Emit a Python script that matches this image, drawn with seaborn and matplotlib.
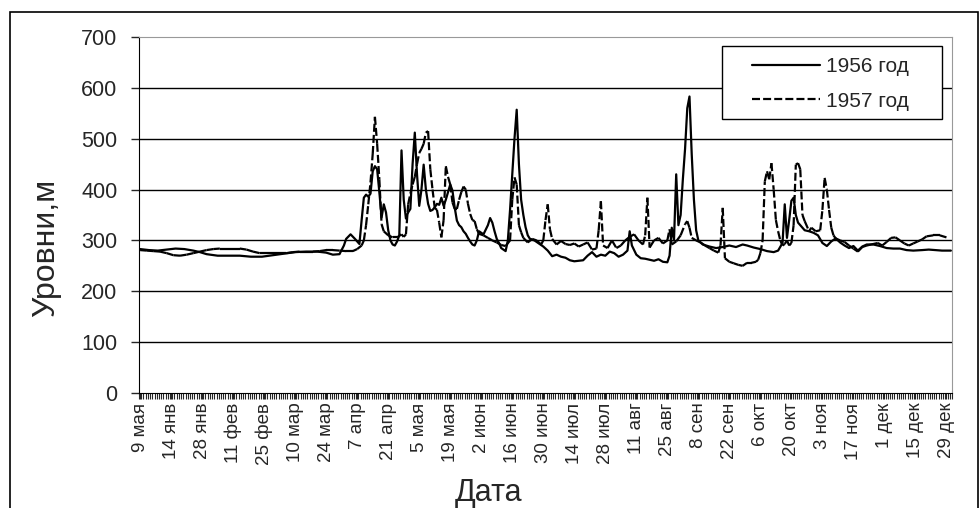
import matplotlib
matplotlib.use("Agg")
import matplotlib.pyplot as plt
import numpy as np
import seaborn as sns
from matplotlib.collections import LineCollection
from matplotlib.lines import Line2D
from matplotlib.patches import Rectangle

# уровни воды по дням (индекс дня от начала года)
days_1956 = [0, 4, 8, 12, 16, 20, 24, 27, 30, 35, 40, 45, 50, 55, 60, 65, 70, 75, 80, 84, 87, 90,
             92, 93, 95, 97, 99, 100, 101, 102, 103, 104, 105, 106, 107, 108, 109, 110, 111, 112,
             113, 114, 115, 116, 117, 118, 119, 120, 121, 122, 123, 124, 125, 126, 127, 128, 129,
             130, 131, 132, 133, 134, 135, 136, 137, 138, 139, 140, 141, 142, 143, 144, 145, 146,
             147, 148, 149, 150, 151, 152, 153, 155, 157, 158, 159, 160, 161, 162, 163, 164, 165,
             166, 167, 168, 169, 170, 171, 172, 173, 174, 175, 176, 178, 180, 182, 184, 186, 188,
             190, 192, 194, 196, 198, 200, 202, 204, 206, 208, 210, 212, 214, 216, 218, 220, 221,
             222, 224, 226, 228, 230, 232, 234, 236, 238, 239, 240, 241, 242, 243, 244, 245, 246,
             247, 248, 249, 250, 251, 252, 254, 257, 260, 263, 266, 269, 272, 274, 277, 280, 283,
             286, 288, 290, 291, 292, 293, 294, 295, 296, 297, 298, 300, 302, 304, 306, 308, 310,
             312, 314, 316, 318, 320, 322, 324, 326, 328, 331, 334, 337, 340, 343, 346, 349, 353,
             356, 359, 362, 366]
levels_1956 = [283, 281, 280, 282, 284, 283, 280, 277, 273, 270, 270, 270, 268, 268, 271, 274, 277,
               278, 278, 276, 272, 273, 290, 303, 312, 303, 293, 340, 384, 390, 386, 392, 436, 446,
               440, 395, 345, 371, 355, 320, 300, 292, 290, 298, 310, 477, 380, 343, 355, 362, 450,
               512, 430, 368, 400, 449, 400, 372, 358, 360, 365, 372, 370, 384, 368, 380, 395, 410,
               398, 365, 339, 330, 326, 318, 313, 305, 298, 292, 290, 300, 318, 312, 330, 344, 335,
               318, 303, 295, 285, 282, 279, 300, 360, 430, 500, 557, 450, 380, 350, 326, 310, 303,
               300, 294, 288, 280, 269, 272, 268, 266, 261, 259, 260, 261, 270, 277, 268, 272, 270,
               278, 275, 268, 272, 280, 318, 290, 272, 265, 264, 262, 260, 263, 258, 257, 270, 325,
               300, 430, 330, 350, 420, 480, 560, 583, 470, 380, 320, 300, 292, 288, 285, 287, 290,
               287, 292, 290, 286, 283, 279, 277, 280, 295, 371, 305, 340, 378, 384, 350, 335, 330,
               320, 318, 315, 310, 295, 289, 298, 304, 296, 290, 285, 289, 280, 288, 292, 292, 289,
               285, 284, 284, 281, 280, 281, 282, 281, 280, 280]

days_1957 = [0, 3, 6, 9, 12, 15, 18, 21, 24, 27, 30, 33, 36, 39, 42, 45, 48, 51, 54, 57, 60, 63, 66,
             69, 72, 75, 78, 81, 84, 87, 90, 93, 96, 98, 100, 101, 102, 103, 104, 105, 106, 107,
             108, 109, 110, 112, 114, 116, 118, 119, 120, 121, 122, 123, 124, 125, 126, 127, 128,
             129, 130, 131, 132, 133, 134, 135, 136, 137, 138, 139, 140, 141, 142, 143, 144, 145,
             146, 147, 148, 149, 150, 151, 152, 153, 155, 157, 159, 161, 163, 165, 167, 168, 169,
             170, 171, 172, 173, 175, 177, 179, 181, 182, 183, 184, 185, 186, 188, 190, 192, 194,
             196, 198, 200, 202, 204, 206, 207, 208, 209, 211, 213, 215, 217, 219, 221, 223, 225,
             227, 228, 229, 230, 232, 234, 236, 238, 239, 240, 242, 244, 246, 247, 248, 249, 251,
             253, 255, 257, 259, 261, 262, 263, 264, 266, 268, 270, 272, 274, 276, 278, 279, 280,
             281, 282, 283, 284, 285, 286, 287, 288, 289, 290, 291, 292, 293, 294, 295, 296, 297,
             298, 299, 300, 302, 303, 305, 307, 308, 309, 310, 311, 312, 313, 314, 316, 318, 320,
             322, 324, 326, 328, 330, 333, 335, 337, 339, 341, 343, 345, 347, 349, 351, 353, 355,
             358, 361, 364]
levels_1957 = [281, 280, 279, 278, 275, 271, 270, 272, 275, 278, 281, 283, 284, 284, 284, 284, 282,
               278, 275, 275, 275, 275, 275, 277, 278, 278, 278, 279, 281, 281, 280, 279, 279, 283,
               290, 300, 330, 371, 414, 470, 543, 490, 420, 332, 318, 310, 306, 306, 312, 307, 312,
               371, 392, 410, 425, 450, 472, 480, 490, 512, 515, 440, 400, 364, 360, 335, 306, 340,
               446, 425, 410, 375, 362, 362, 380, 395, 406, 400, 372, 352, 340, 338, 322, 313, 310,
               305, 300, 296, 291, 289, 300, 380, 424, 410, 330, 316, 305, 296, 303, 300, 292, 300,
               340, 371, 322, 303, 292, 299, 293, 291, 294, 288, 292, 296, 282, 284, 320, 377, 290,
               285, 300, 285, 290, 300, 307, 312, 300, 292, 310, 384, 286, 300, 305, 294, 300, 322,
               292, 298, 310, 332, 338, 325, 305, 300, 296, 290, 285, 280, 276, 290, 364, 265, 258,
               255, 252, 250, 256, 256, 258, 262, 275, 300, 416, 436, 420, 452, 400, 340, 318, 300,
               290, 293, 300, 290, 295, 330, 449, 452, 440, 350, 338, 318, 325, 318, 320, 360, 423,
               400, 360, 325, 310, 304, 300, 297, 290, 284, 278, 287, 290, 292, 295, 290, 297, 305,
               306, 300, 294, 290, 294, 298, 302, 308, 310, 310, 306]

tick_days = list(range(0, 365, 14))
tick_labels = ["9 мая", "14 янв", "28 янв", "11 фев", "25 фев", "10 мар", "24 мар", "7 апр",
               "21 апр", "5 мая", "19 мая", "2 июн", "16 июн", "30 июн", "14 июл", "28 июл",
               "11 авг", "25 авг", "8 сен", "22 сен", "6 окт", "20 окт", "3 ноя", "17 ноя",
               "1 дек", "15 дек", "29 дек"]
n_days = 367

sns.set_style("white")
plt.rcParams["font.family"] = ["Liberation Sans", "DejaVu Sans"]

W, H = 980, 508
fig = plt.figure(figsize=(W / 100, H / 100), dpi=100)
ax = fig.add_axes([139 / W, 1 - 393 / H, 813 / W, 356 / H])

# рамка вокруг всей диаграммы
fig.patches.append(Rectangle((10 / W, -0.1), 968 / W, 1.1 - 12 / H, transform=fig.transFigure,
                             fill=False, edgecolor="black", lw=1.2))

for v in range(100, 700, 100):
    ax.axhline(v, color="black", lw=1.0, zorder=1)

sns.lineplot(x=days_1956, y=levels_1956, ax=ax, color="black", lw=1.6, zorder=3)

# пунктир как в Excel: штрих начинается заново на каждом отрезке
pts = np.column_stack([days_1957, levels_1957])
segs = np.stack([pts[:-1], pts[1:]], axis=1)
ax.add_collection(LineCollection(segs, colors="black", linewidths=1.6,
                                 linestyles=[(0, (3.6, 1.4))], zorder=3))

ax.set_xlim(-0.5, n_days - 0.5)
ax.set_ylim(0, 700)
ax.set_yticks(range(0, 800, 100))
ax.tick_params(axis="y", labelsize=15.5, length=6, width=1, direction="out", left=True, pad=9.5)
ax.set_xticks(tick_days)
ax.set_xticklabels(tick_labels, rotation=90, fontsize=13.5)
ax.set_xticks(np.arange(-0.5, n_days, 1), minor=True)
ax.tick_params(axis="x", which="both", length=4, width=0.8, direction="out", bottom=True, pad=3)

for side in ["top", "right"]:
    ax.spines[side].set_color("#999999")
for side in ["left", "bottom"]:
    ax.spines[side].set_color("black")

ax.set_ylabel("Уровни,м", fontsize=23)
ax.yaxis.set_label_coords((61 - 139) / 813, (393 - 248) / 356)
ax.set_xlabel("Дата", fontsize=22)
ax.xaxis.set_label_coords(0.43, -0.24)

# легенда: рамка рисуется отдельно, как в исходной диаграмме
ax.add_patch(Rectangle((722 / W, 1 - 119 / H), 220 / W, 73 / H, transform=fig.transFigure,
                       facecolor="white", edgecolor="black", lw=1.0, zorder=5, clip_on=False))
handles = [Line2D([], [], color="black", lw=1.6),
           Line2D([], [], color="black", lw=1.6, ls=(0, (3.6, 1.4)))]
leg = ax.legend(handles, ["1956 год", "1957 год"], loc="upper left",
                bbox_to_anchor=(752 / W, 1 - 57 / H), bbox_transform=fig.transFigure,
                fontsize=15, frameon=False, handlelength=3.25, handletextpad=0.3,
                labelspacing=0.75, borderpad=0, borderaxespad=0)
leg.set_zorder(6)

fig.savefig("out.png", dpi=100)
